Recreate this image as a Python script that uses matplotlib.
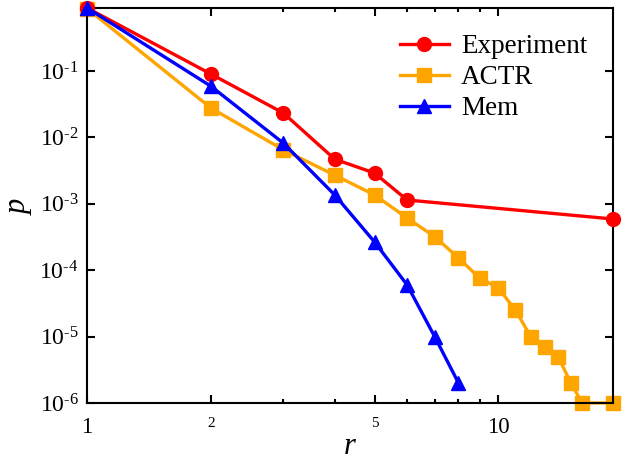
import numpy as np
import matplotlib
matplotlib.use('Agg')
import matplotlib.pyplot as plt
from matplotlib.ticker import FixedLocator, FixedFormatter, NullFormatter

plt.rcParams['font.family'] = 'Liberation Serif'
plt.rcParams['mathtext.fontset'] = 'custom'
plt.rcParams['mathtext.rm'] = 'Liberation Serif'
plt.rcParams['mathtext.it'] = 'Liberation Serif:italic'

# data
r_exp = [1, 2, 3, 4, 5, 6, 19]
p_exp = [0.89, 0.09, 0.0233, 0.0047, 0.0029, 0.00114, 0.00059]

r_actr = [1, 2, 3, 4, 5, 6, 7, 8, 9, 10, 11, 12, 13, 14, 15, 16, 19]
p_actr = [0.87, 0.0277, 0.0065, 0.0027, 0.00136, 0.00061, 0.00032, 0.000153,
          7.6e-5, 5.4e-5, 2.5e-5, 9.9e-6, 7e-6, 4.9e-6, 2e-6, 1e-6, 1e-6]

r_mem = [1, 2, 3, 4, 5, 6, 7, 8]
p_mem = [0.89, 0.059, 0.0082, 0.00136, 0.000266, 6e-5, 1e-5, 2e-6]

x_major = [1, 2, 5, 10]
x_minor = [3, 4, 6, 7, 8, 9]
y_major = [1e-6, 1e-5, 1e-4, 1e-3, 1e-2, 1e-1]

fig = plt.figure(figsize=(6.22, 4.68), dpi=100)
ax = fig.add_axes([0.14, 0.139, 0.8455, 0.844])

ax.plot(r_exp, p_exp, color='#ff0000', lw=2.4, marker='o', ms=10, label='Experiment', clip_on=False, zorder=3)
ax.plot(r_actr, p_actr, color='#ffa500', lw=2.4, marker='s', ms=10, label='ACTR', clip_on=False, zorder=2)
ax.plot(r_mem, p_mem, color='#0000ff', lw=2.4, marker='^', ms=10, label='Mem', clip_on=False, zorder=4)

ax.set_xscale('log')
ax.set_yscale('log')
ax.set_xlim(1, 19)
ax.set_ylim(1e-6, 0.89)

ax.xaxis.set_major_locator(FixedLocator(x_major))
ax.xaxis.set_major_formatter(FixedFormatter([str(v) for v in x_major]))
ax.xaxis.set_minor_locator(FixedLocator(x_minor))
ax.xaxis.set_minor_formatter(NullFormatter())
ax.yaxis.set_major_locator(FixedLocator(y_major))
ax.yaxis.set_major_formatter(FixedFormatter([r'$10^{\text{-}%d}$' % k for k in range(6, 0, -1)]))
ax.yaxis.set_minor_locator(FixedLocator([]))

ax.tick_params(which='both', direction='in', top=True, right=True, width=1.5)
ax.tick_params(which='major', length=6)
ax.tick_params(which='minor', length=3)
ax.tick_params(axis='y', labelsize=17, pad=6)
ax.tick_params(axis='x', labelsize=16.5, pad=10)
for lab in ax.get_xticklabels():
    if lab.get_text() in ('2', '5'):
        lab.set_fontsize(11)
for s in ax.spines.values():
    s.set_linewidth(1.5)

ax.set_xlabel('$r$', fontsize=22, labelpad=-4)
ax.set_ylabel('$p$', fontsize=22, labelpad=4)

ax.legend(loc='upper right', frameon=False, fontsize=19.5, handlelength=1.8,
          borderaxespad=0.55, labelspacing=0.22, handletextpad=0.45,
          bbox_to_anchor=(1.0, 0.998))

fig.savefig('out.png', dpi=100)
